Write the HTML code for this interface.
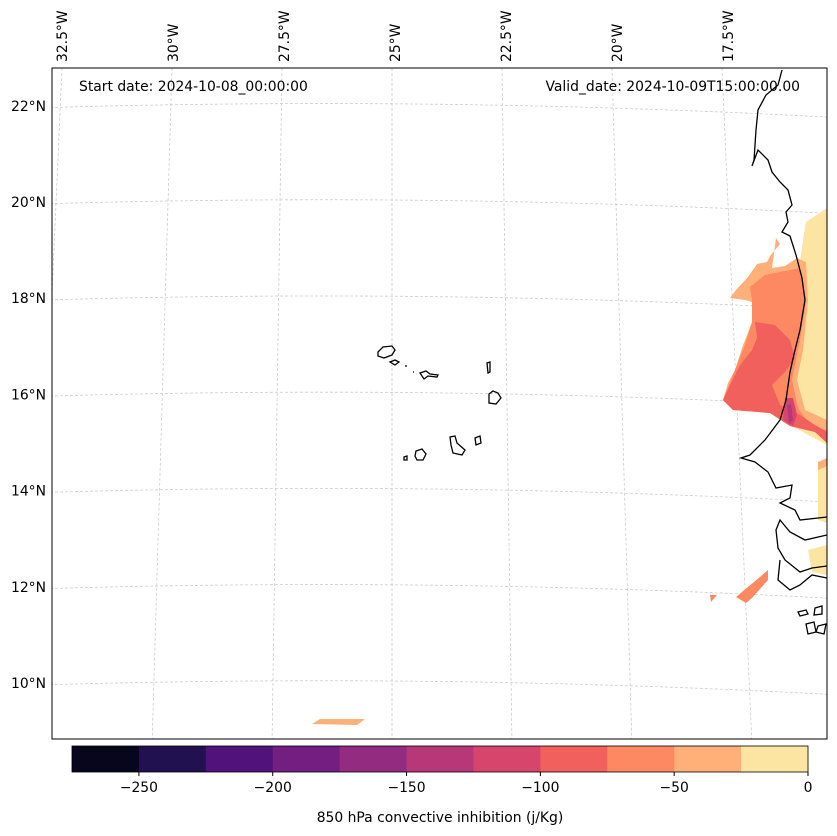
<!DOCTYPE html>
<html><head><meta charset="utf-8"><style>
body{margin:0;background:#fff;}
svg{display:block;font-family:"DejaVu Sans","Liberation Sans",sans-serif;}
</style></head><body>
<svg id="chart" width="837" height="836" viewBox="0 0 837 836">
<defs><clipPath id="mapclip"><rect x="52" y="68" width="775" height="671"/></clipPath></defs>
<rect x="0" y="0" width="837" height="836" fill="#fff"/>
<g id="grid" clip-path="url(#mapclip)"></g>
<g clip-path="url(#mapclip)">
  <polygon fill="#fce4a2" points="806,222 827,208 827,445 790,425 785,400 795,350 800,300 800,262 803,240"/>
  <polygon fill="#feb078" points="776,238 780,244 770,256 767,262 757,264 748,277 736,290 730,298 745,300 752,302 752,322 742,348 735,370 728,383 723,400 733,410 770,413 782,420 790,426 815,432 827,443 827,420 805,410 797,380 803,350 808,300 806,262 797,258 785,266 772,268"/>
  <polygon fill="#fc8961" points="752,300 750,287 765,275 790,270 800,268 806,300 800,340 792,380 798,408 810,425 827,430 827,443 815,432 790,426 770,413 733,410 723,400 735,370 745,345 752,322"/>
  <polygon fill="#f1605d" points="755,322 775,325 790,340 795,358 785,372 772,385 780,405 800,415 815,425 827,432 827,443 815,432 790,426 770,413 733,410 723,400 730,385 740,365 752,350 757,338"/>
  <polygon fill="#d8456c" points="785,398 793,398 797,415 793,426 783,420"/>
  <polygon fill="#b73779" points="787,405 791,404 793,420 789,424"/>
  <polygon fill="#fce4a2" points="818,467 827,462 827,523 818,520"/>
  <polygon fill="#feb078" points="818,462 827,458 827,466 818,470"/>
  <polygon fill="#fce4a2" points="808,550 827,545 827,575 812,572"/>
  <polygon fill="#fc8961" points="736,597 760,577 768,570 768,580 752,598 746,603"/>
  <polygon fill="#fc8961" points="710,595 717,595 711,602"/>
  <polygon fill="#feb078" points="312,724 320,719 365,719 357,725"/>
</g>
<g clip-path="url(#mapclip)" fill="none" stroke="#000" stroke-width="1.3">
  <path d="M782,70 L778,85 L766,95 L758,110 L756,130 L754,160 L752,166 L758,150 L768,160 L772,172 L780,182 L788,190 L792,205 L786,212 L788,222 L782,232 L790,236 L796,255 L802,278 L805,300 L800,330 L795,350 L790,372 L786,400 L780,420 L765,440 L750,455 L741,458 L755,462 L768,472 L776,488 L792,485 L790,498 L780,503 L795,510 L800,520 L827,517"/>
  <path d="M827,535 L805,540 L790,532 L780,520 L776,530 L778,548 L785,560 L800,572 L812,568 L827,566"/>
  <path d="M780,560 L778,580 L790,590 L800,585 L812,575 L827,578"/>
  <path d="M798,612 L806,610 L808,614 L800,616 Z M815,608 L822,606 L822,614 L814,615 Z M806,624 L814,622 L816,632 L808,634 Z M818,626 L826,624 L824,634 L816,632 Z"/>
  <path d="M378,352 L383,347 L392,346 L395,350 L392,355 L384,358 L378,356 Z"/>
  <path d="M390,362 L395,360 L399,362 L395,365 Z"/>
  <path d="M405,366 L407,366 M413,372 L414,372"/>
  <path d="M420,373 L426,371 L430,374 L438,375 L437,377 L428,376 L424,379 Z"/>
  <path d="M487,363 L490,362 L490,372 L488,373 Z"/>
  <path d="M489,394 L493,391 L498,393 L501,398 L496,404 L489,403 Z"/>
  <path d="M475,438 L480,436 L481,443 L476,445 Z"/>
  <path d="M450,437 L455,436 L457,443 L465,450 L462,455 L453,453 L451,445 Z"/>
  <path d="M416,451 L422,449 L426,454 L423,460 L417,460 L415,456 Z"/>
  <path d="M404,457 L407,456 L407,460 L404,460 Z"/>
</g>
<rect x="52" y="68" width="775" height="671" fill="none" stroke="#000" stroke-width="1"/>
<g id="labels" font-size="13.9" fill="#000"></g>
<text x="79" y="91" font-size="13.9">Start date: 2024-10-08_00:00:00</text>
<text x="800" y="91" font-size="13.9" text-anchor="end">Valid_date: 2024-10-09T15:00:00.00</text>
<g id="colorbar"></g>
<text x="440" y="822" font-size="13.9" text-anchor="middle">850 hPa convective inhibition (j/Kg)</text>
</svg>
<script>
const cbLevels=[-275,-250,-225,-200,-175,-150,-125,-100,-75,-50,-25,0];
const cbColors=["#07061c","#221150","#51127c","#721f81","#932b80","#b73779","#d8456c","#f1605d","#fc8961","#feb078","#fce4a2"];
const cbTicks=[-250,-200,-150,-100,-50,0];
const latTicks=[22,20,18,16,14,12,10];
const lonTicks=[32.5,30,27.5,25,22.5,20,17.5];
const NS="http://www.w3.org/2000/svg";
function mk(t,a,p){const e=document.createElementNS(NS,t);for(const k in a)e.setAttribute(k,a[k]);p.appendChild(e);return e;}
const cbX0=72,cbX1=808,cbY=746,cbH=26;
function cbx(v){return cbX0+(v-cbLevels[0])/(cbLevels[cbLevels.length-1]-cbLevels[0])*(cbX1-cbX0);}
const cb=document.getElementById('colorbar');
for(let i=0;i<cbColors.length;i++){
 const r=mk('rect',{x:cbx(cbLevels[i]),y:cbY,width:cbx(cbLevels[i+1])-cbx(cbLevels[i])+0.5,height:cbH,fill:cbColors[i]},cb);
 
 
}
const fr=mk('rect',{x:cbX0,y:cbY,width:cbX1-cbX0,height:cbH,fill:'none',stroke:'#000','stroke-width':0.8},cb);


cbTicks.forEach(v=>{
 const l=mk('line',{x1:cbx(v),x2:cbx(v),y1:cbY+cbH,y2:cbY+cbH+4,stroke:'#000'},cb);
 
 
 const t=mk('text',{x:cbx(v),y:cbY+cbH+20,'font-size':13.9,'text-anchor':'middle'},cb);
 t.textContent=(v<0?'\u2212'+(-v):v);
 
 
});
function latY(lat){return 202+(20-lat)*48.1;}
function lonTopX(lon){return 392+(25-lon)*44;}
const g=document.getElementById('grid'), lb=document.getElementById('labels');
latTicks.forEach(lat=>{
 const y=latY(lat);
 const p=mk('path',{d:`M40,${y+2} Q440,${y-10} 840,${y+12}`,fill:'none',stroke:'#ccc','stroke-width':0.8,'stroke-dasharray':'3,2'},g);
 
 
 const t=mk('text',{x:46,y:y+5,'text-anchor':'end','font-size':13.9},lb);
 t.textContent=lat+'°N';
 
 
});
lonTicks.forEach(lon=>{
 const xt=lonTopX(lon), xb=392+(xt-392)*1.09;
 const p=mk('line',{x1:xt,y1:68,x2:xb,y2:739,stroke:'#ccc','stroke-width':0.8,'stroke-dasharray':'3,2'},g);
 
 
 const tx=395+(25-lon)*44.4+5;
 const t=mk('text',{x:0,y:0,'font-size':13.9,transform:`translate(${tx},62) rotate(-90)`},lb);
 t.textContent=lon+'°W';
 
 
});
</script>
</body></html>
